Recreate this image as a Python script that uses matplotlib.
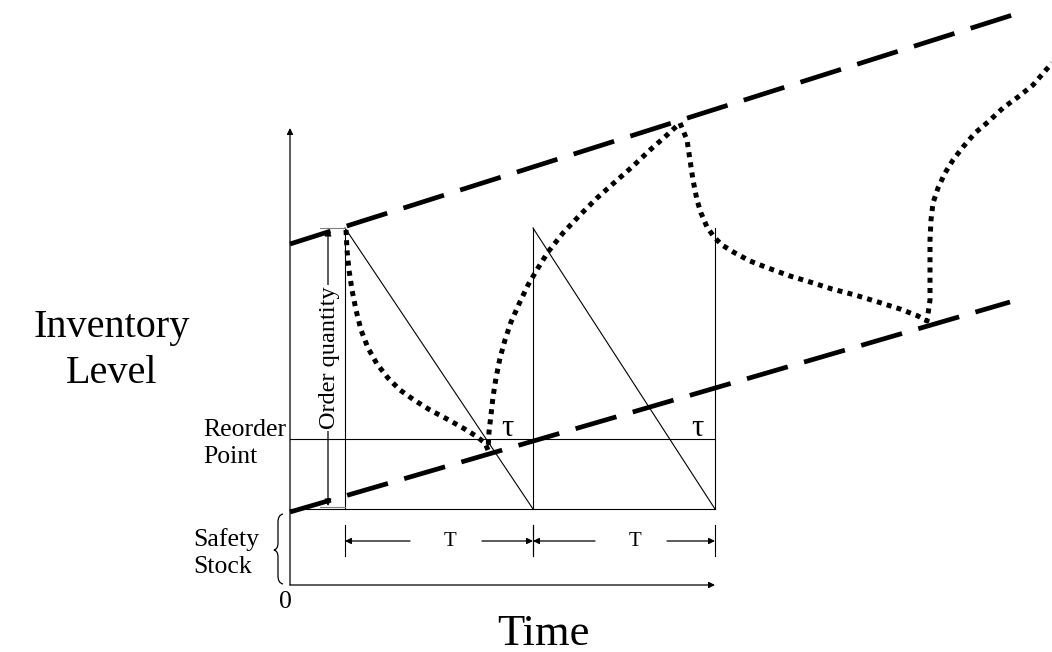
import matplotlib.pyplot as plt
from matplotlib.path import Path
from matplotlib.patches import PathPatch

# diagram coordinates (pixel-like units, y grows downward)
origin = (290, 585)
axis_top = 128
axis_right = 715

order_times = [345, 533, 715]
max_level = 228
reorder_level = 439
safety_level = 509

upper_trend_x = [290, 1022]
upper_trend_y = [244, 12]
lower_trend_x = [290, 1010]
lower_trend_y = [512, 302]

demand_x = [346, 347, 349, 352, 356, 361, 368, 377, 388, 400, 414, 430, 447, 463, 476, 485, 488,
            489, 491, 493, 496, 500, 505, 511, 519, 528, 538, 548, 563, 580, 597, 615, 632, 650, 667, 680,
            687, 690, 693, 697, 701, 707, 714, 722, 735, 750, 768, 790, 810, 832, 855, 878, 900, 918, 927,
            930, 930, 930, 930, 931, 933, 938, 945, 953, 963, 975, 988, 1003, 1018, 1033, 1052]
demand_y = [230, 250, 270, 290, 310, 330, 348, 364, 378, 390, 400, 410, 419, 428, 436, 443, 450,
            432, 415, 397, 378, 358, 340, 322, 304, 285, 268, 252, 233, 215, 198, 182, 167, 150, 135, 123,
            140, 160, 180, 200, 213, 227, 237, 245, 253, 261, 268, 276, 282, 289, 295, 302, 309, 316, 321,
            300, 280, 260, 240, 220, 203, 188, 173, 160, 147, 133, 122, 108, 97, 85, 63]

serif = 'Liberation Serif'


def arrow(ax, start, end, style='-|>', scale=10):
    ax.annotate('', xy=end, xytext=start,
                arrowprops=dict(arrowstyle=style, color='black', lw=0.9,
                                mutation_scale=scale, shrinkA=0, shrinkB=0))


def main():
    fig = plt.figure(figsize=(10.52, 6.52), dpi=100)
    ax = fig.add_axes([0, 0, 1, 1])
    ax.set_xlim(0, 1052)
    ax.set_ylim(652, 0)
    ax.axis('off')

    x0, y0 = origin
    # axes
    arrow(ax, (x0, y0), (x0, axis_top), scale=9)
    arrow(ax, (x0, y0), (axis_right, y0), scale=9)

    # reorder point and safety stock levels
    ax.plot([x0, order_times[-1]], [reorder_level, reorder_level], color='black', lw=0.8)
    ax.plot([x0, order_times[-1]], [safety_level, safety_level], color='black', lw=0.8)

    # sawtooth inventory
    for t in order_times:
        ax.plot([t, t], [max_level, safety_level], color='black', lw=0.8)
    for a, b in zip(order_times[:-1], order_times[1:]):
        ax.plot([a, b], [max_level, safety_level], color='black', lw=0.8)

    # trend lines
    for xs, ys in [(upper_trend_x, upper_trend_y), (lower_trend_x, lower_trend_y)]:
        ax.plot(xs, ys, color='black', lw=3.4, dashes=(9, 3.6), solid_capstyle='butt',
                dash_capstyle='butt')

    # demand path
    ax.plot(demand_x, demand_y, color='black', lw=3.6, dashes=(1, 1.05), dash_capstyle='butt')

    # order quantity arrow
    oq_x = 328
    ax.plot([oq_x - 8, order_times[0]], [max_level, max_level], color='gray', lw=0.8)
    ax.plot([oq_x - 8, order_times[0]], [safety_level - 2, safety_level - 2], color='gray', lw=0.8)
    arrow(ax, (oq_x, 357), (oq_x, max_level + 1), scale=10)
    arrow(ax, (oq_x, 357), (oq_x, safety_level - 3), scale=10)
    ax.text(oq_x + 1, 358, 'Order quantity', rotation=90, ha='center', va='center',
            fontsize=17.5, family=serif, bbox=dict(facecolor='white', edgecolor='none', pad=1))

    # cycle length dimension arrows
    dim_y = 541
    for a, b in zip(order_times[:-1], order_times[1:]):
        ax.plot([a, a], [525, 556], color='black', lw=0.8)
        ax.plot([b, b], [525, 556], color='black', lw=0.8)
        mid = (a + b) / 2
        arrow(ax, (mid - 29, dim_y), (a, dim_y), scale=9)
        arrow(ax, (mid + 43, dim_y), (b, dim_y), scale=9)
        ax.text(mid + 11, dim_y + 1, 'T', ha='center', va='center', fontsize=15, family=serif)

    # lead time labels
    for t in [507, 697]:
        ax.text(t, 436, 'τ', ha='center', va='baseline', fontsize=22, family=serif)

    # safety stock brace
    bx = 278
    verts = [(bx + 5, 514), (bx, 515), (bx, 522), (bx, 543), (bx, 549), (bx - 4, 550),
             (bx, 551), (bx, 557), (bx, 576), (bx, 583), (bx + 5, 584)]
    codes = [Path.MOVETO, Path.CURVE3, Path.CURVE3, Path.LINETO, Path.CURVE3, Path.CURVE3,
             Path.CURVE3, Path.CURVE3, Path.LINETO, Path.CURVE3, Path.CURVE3]
    ax.add_patch(PathPatch(Path(verts, codes), facecolor='none', edgecolor='black', lw=0.9))

    # labels
    ax.text(112, 337, 'Inventory', ha='center', va='baseline', fontsize=29, family=serif)
    ax.text(112, 383, 'Level', ha='center', va='baseline', fontsize=29, family=serif)
    ax.text(543, 645, 'Time', ha='center', va='baseline', fontsize=32, family=serif)
    ax.text(203, 436, 'Reorder', ha='left', va='baseline', fontsize=18.5, family=serif)
    ax.text(203, 463, 'Point', ha='left', va='baseline', fontsize=18.5, family=serif)
    ax.text(193, 546, 'Safety', ha='left', va='baseline', fontsize=18.5, family=serif)
    ax.text(193, 573, 'Stock', ha='left', va='baseline', fontsize=18.5, family=serif)
    ax.text(285, 608, '0', ha='center', va='baseline', fontsize=18.5, family=serif)

    fig.savefig('out.png', dpi=100)


if __name__ == '__main__':
    main()
